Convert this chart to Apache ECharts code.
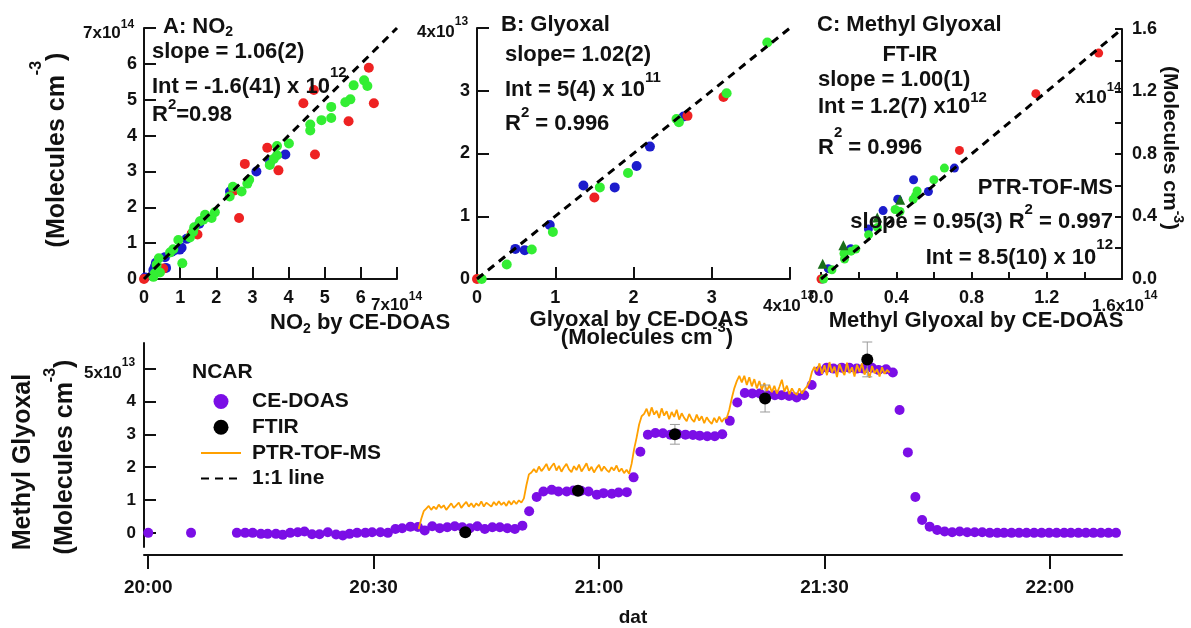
<!DOCTYPE html>
<html>
<head>
<meta charset="utf-8">
<script src="https://cdn.jsdelivr.net/npm/echarts@6/dist/echarts.min.js"></script>
<style>
  html, body { margin: 0; padding: 0; background: #fff; }
  #chart { width: 1191px; height: 628px; }
</style>
</head>
<body>
<div id="chart"></div>
<script>
const FONT = '"Liberation Sans", Arial, sans-serif'
const INK = '#111'
const RED = '#ee2222'
const GREEN = '#33ee33'
const BLUE = '#1c1ccc'
const DKGREEN = '#1a6e1a'
const PURPLE = '#7b0ee6'
const ORANGE = '#ffa000'

// A: NO2, both axes x10^14
const no2Blue = [[3.91, 3.47], [3.49, 3.26], [3.11, 3.00], [2.38, 2.44], [1.53, 1.54], [1.18, 1.12], [1.04, 0.87], [0.99, 0.82],
  [0.86, 0.81], [0.77, 0.76], [0.58, 0.61], [0.61, 0.31], [0.30, 0.34], [0.33, 0.45], [0.26, 0.25], [0.03, 0.04]]
const no2Red = [[6.22, 5.89], [4.70, 5.27], [4.41, 4.90], [6.36, 4.90], [5.66, 4.40], [4.73, 3.47], [3.41, 3.66], [2.79, 3.21],
  [3.72, 3.03], [2.48, 2.46], [2.63, 1.70], [1.32, 1.27], [1.48, 1.24], [0.53, 0.29], [0.0, 0.0]]
const no2Green = [[6.09, 5.54], [6.18, 5.38], [5.80, 5.40], [5.71, 5.01], [5.57, 4.93], [5.18, 4.80], [5.18, 4.49], [4.91, 4.43],
  [4.60, 4.31], [4.60, 4.14], [4.01, 3.78], [3.68, 3.71], [3.68, 3.45], [3.59, 3.35], [3.48, 3.18], [2.91, 2.77], [2.86, 2.66],
  [2.70, 2.44], [2.46, 2.57], [2.37, 2.30], [1.96, 1.86], [1.87, 1.70], [1.69, 1.79], [1.64, 1.65], [1.55, 1.61], [1.39, 1.44],
  [1.36, 1.32], [1.27, 1.16], [0.95, 1.09], [1.06, 0.44], [0.81, 0.83], [0.72, 0.74], [0.41, 0.58], [0.35, 0.40], [0.30, 0.16],
  [0.44, 0.18], [0.26, 0.06]]
const no2Line = [[0, 0], [7, 7]]

// B: glyoxal, x10^13
const glyBlue = [[2.64, 2.59], [2.21, 2.11], [2.04, 1.80], [1.76, 1.46], [1.36, 1.49], [0.93, 0.86], [0.61, 0.46], [0.49, 0.48], [-0.02, 0.0]]
const glyRed = [[3.15, 2.90], [2.69, 2.60], [1.50, 1.30], [0.0, 0.0]]
const glyGreen = [[3.71, 3.77], [3.19, 2.96], [2.58, 2.50], [2.55, 2.55], [1.93, 1.69], [1.57, 1.46], [0.97, 0.75], [0.70, 0.47],
  [0.38, 0.23], [0.06, 0.0]]
const glyLine = [[0, 0], [4, 4]]

// C: methyl glyoxal, x10^14
const mgBlue = [[0.709, 0.710], [0.571, 0.560], [0.492, 0.635], [0.408, 0.511], [0.330, 0.438], [0.252, 0.320], [0.158, 0.194],
  [0.039, 0.066], [0.007, 0.0]]
const mgRed = [[1.476, 1.446], [1.142, 1.186], [0.736, 0.823], [0.0, 0.0]]
const mgGreen = [[0.656, 0.710], [0.600, 0.635], [0.511, 0.564], [0.503, 0.533], [0.490, 0.510], [0.420, 0.432], [0.394, 0.445],
  [0.300, 0.330], [0.253, 0.283], [0.185, 0.192], [0.160, 0.178], [0.122, 0.163], [0.125, 0.128], [0.058, 0.059], [0.014, 0.0]]
const mgPtr = [[0.421, 0.507], [0.299, 0.393], [0.119, 0.216], [0.009, 0.098]]
const mgLine = [[0, 0], [1.6, 1.6]]
const cTicks = [0, 0.2, 0.4, 0.6, 0.8, 1.0, 1.2, 1.4, 1.6]

// bottom: minutes after 20:00, methyl glyoxal x10^13
const timeTicks = [0, 30, 60, 90, 120]
const ceDoas = [
  [0, 0], [5.7, 0],
  [11.8, 0], [12.9, 0], [13.9, 0], [15.0, -0.03], [15.9, -0.03], [17.0, -0.03], [17.9, -0.06], [18.9, 0], [19.9, 0.02], [20.8, 0.04],
  [21.8, -0.04], [22.8, -0.04], [23.9, 0.02], [25.0, -0.05], [25.9, -0.08], [26.8, -0.03], [27.8, 0], [28.9, 0], [29.8, 0.02], [30.9, 0.02],
  [31.9, 0], [32.9, 0.12], [33.8, 0.14], [34.9, 0.19], [35.9, 0.18], [36.8, 0.07], [37.8, 0.2], [38.8, 0.14], [39.8, 0.17], [40.8, 0.2],
  [41.8, 0.17], [42.8, 0.14], [43.8, 0.2], [44.8, 0.12], [45.8, 0.17], [46.8, 0.17], [47.8, 0.14], [48.8, 0.12], [49.8, 0.22], [50.7, 0.66],
  [51.7, 1.09], [52.6, 1.26], [53.7, 1.31], [54.6, 1.26], [55.7, 1.26], [56.6, 1.29], [57.6, 1.28], [58.6, 1.26], [59.7, 1.16], [60.6, 1.21],
  [61.7, 1.19], [62.6, 1.23], [63.7, 1.24], [64.6, 1.69], [65.5, 2.47], [66.5, 2.99], [67.5, 3.04], [68.5, 3.03], [69.5, 2.99], [70.5, 3.0],
  [71.5, 2.99], [72.5, 2.98], [73.4, 2.96], [74.4, 2.94], [75.4, 2.94], [76.4, 3.0], [77.4, 3.41], [78.4, 3.97], [79.4, 4.26], [80.4, 4.24],
  [81.4, 4.24], [82.4, 4.19], [83.4, 4.19], [84.3, 4.19], [85.3, 4.17], [86.3, 4.12], [87.3, 4.19], [88.3, 4.5], [89.3, 4.93], [90.3, 5.03],
  [91.2, 5.0], [92.3, 5.03], [93.3, 5.03], [94.3, 5.0], [95.2, 5.0], [96.3, 5.03], [97.2, 4.96], [98.2, 4.98], [99.1, 4.88], [100.0, 3.74],
  [101.1, 2.45], [102.1, 1.09], [103.0, 0.39], [104.0, 0.19], [105.0, 0.09], [106.0, 0.04], [107.0, 0.02], [108.0, 0.04], [109.0, 0.02], [110.0, 0.02],
  [111.0, 0.02], [112.0, 0], [113.0, 0], [113.9, 0], [114.9, 0], [115.9, 0], [116.9, 0], [117.9, 0], [118.9, 0], [119.9, 0],
  [120.9, 0], [121.9, 0], [122.8, 0], [123.8, 0], [124.8, 0], [125.8, 0], [126.8, 0], [127.8, 0], [128.8, 0]
]
const ftir = [[42.2, 0.02], [57.2, 1.28], [70.1, 3.0], [82.1, 4.09], [95.7, 5.28]]
const ftirErr = [0, 0, 0.3, 0.41, 0.53]
// PTR-TOF-MS, one reading every 20 s from 20:36
const ptrStart = 36
const ptrStep = 1 / 3
const ptrValues = [
  0.12, 0.42, 0.66, 0.74, 0.82, 0.70, 0.80, 0.72, 0.86, 0.76, 0.84, 0.70, 0.80, 0.90, 0.76, 0.84, 0.92, 0.76, 0.86, 0.94, 0.80,
  0.90, 0.78, 0.90, 0.82, 0.96, 0.80, 0.92, 0.86, 0.80, 0.94, 0.84, 0.96, 0.85, 0.93, 0.82, 0.97, 0.86, 0.98, 0.88, 0.99, 0.92,
  1.05, 1.45, 1.78, 1.84,
  1.94, 1.84, 2.02, 1.88, 1.98, 2.10, 1.90, 2.02, 2.12, 1.90, 2.04, 1.86, 2.00, 2.10, 1.93, 1.85, 2.03, 1.91, 2.08, 1.87, 1.99,
  2.12, 1.89, 2.01, 1.84, 1.97, 2.07, 1.88, 2.02, 1.92, 1.85, 2.00, 1.90, 2.05, 1.86, 1.96, 1.82, 1.92,
  1.80, 2.10, 2.55, 2.90, 3.30, 3.55,
  3.62, 3.78, 3.55, 3.82, 3.60, 3.72, 3.50, 3.79, 3.57, 3.70, 3.46, 3.68, 3.53, 3.75, 3.45, 3.64, 3.50, 3.40, 3.62, 3.46, 3.38,
  3.60, 3.42, 3.55, 3.34, 3.52, 3.40, 3.32, 3.50, 3.36, 3.54, 3.38, 3.48,
  3.50, 3.75, 4.10, 4.40, 4.62, 4.78,
  4.58, 4.78, 4.50, 4.74, 4.46, 4.68, 4.40, 4.62, 4.36, 4.56, 4.32, 4.50, 4.28, 4.48, 4.24, 4.44, 4.66, 4.30, 4.48, 4.22, 4.40,
  4.26, 4.20, 4.40, 4.24, 4.36,
  4.45, 4.60, 4.90, 5.05,
  4.92, 5.16, 4.84, 5.10, 4.80, 5.20, 4.88, 5.06, 4.74, 5.14, 4.94, 4.80, 5.18, 4.86, 5.04, 4.76, 5.12, 4.90, 5.16, 4.82, 5.00,
  4.72, 5.08, 4.86, 4.98, 4.76, 5.04, 4.84, 4.96, 4.88
]

const myChart = echarts.init(document.getElementById('chart'))

const axisLine = { onZero: false, lineStyle: { color: INK, width: 2 } }
const tickFont = { fontFamily: FONT, fontWeight: 'bold', color: INK }

function clock(m) {
  const h = 20 + Math.floor(m / 60)
  const mm = m % 60
  return h + ':' + (mm < 10 ? '0' : '') + mm
}

function scatter(name, data, idx, color, size, symbol) {
  return {
    name, type: 'scatter', xAxisIndex: idx, yAxisIndex: idx, data,
    symbol: symbol || 'circle', symbolSize: size,
    itemStyle: { color, opacity: 1 }, z: 3
  }
}

function oneToOne(data, idx) {
  return {
    name: '1:1 line', type: 'line', xAxisIndex: idx, yAxisIndex: idx, data,
    symbol: 'none', lineStyle: { color: '#000', width: 3, type: [8, 6] }, itemStyle: { color: '#000' }, z: 5
  }
}

// text with superscript {s|..} / subscript {b|..} pieces
function label(x, y, parts, o = {}) {
  const size = o.size || 22
  const ss = o.ss || 15
  const shift = o.shift || 0
  const lh = Math.max(size, 2 * shift + ss)
  const text = parts.map(p => typeof p === 'string' ? '{m|' + p + '}' : '{' + p[1] + '|' + p[0] + '}').join('')
  return {
    type: 'text', x, y, rotation: o.rot || 0, z: 100,
    style: {
      legacy: false,
      text, align: o.align || 'left', verticalAlign: 'middle', fill: INK,
      rich: {
        m: { font: 'bold ' + size + 'px ' + FONT, lineHeight: lh, verticalAlign: 'middle', fill: INK },
        s: { font: 'bold ' + ss + 'px ' + FONT, lineHeight: ss, verticalAlign: 'top', fill: INK },
        b: { font: 'bold ' + ss + 'px ' + FONT, lineHeight: ss, verticalAlign: 'bottom', fill: INK }
      }
    }
  }
}

const option = {
  animation: false,
  backgroundColor: '#fff',
  textStyle: { fontFamily: FONT },
  grid: [
    { left: 144, top: 28, width: 253, height: 251 },
    { left: 477, top: 28, width: 313, height: 251 },
    { left: 821, top: 29, width: 301, height: 250 },
    { left: 144, top: 343, width: 978, height: 209 }
  ],
  xAxis: [
    {
      gridIndex: 0, type: 'value', min: 0, max: 7, interval: 1, axisLine,
      axisTick: { inside: true, length: 12, lineStyle: { color: INK, width: 2 } },
      axisLabel: { ...tickFont, fontSize: 18, margin: 10, formatter: v => v === 7 ? '' : String(v) },
      splitLine: { show: false }
    },
    {
      gridIndex: 1, type: 'value', min: 0, max: 4, interval: 1, axisLine,
      axisTick: { inside: true, length: 12, lineStyle: { color: INK, width: 2 } },
      axisLabel: { ...tickFont, fontSize: 18, margin: 10, formatter: v => v === 4 ? '' : String(v) },
      splitLine: { show: false }
    },
    {
      gridIndex: 2, type: 'value', min: 0, max: 1.6, axisLine,
      axisTick: { inside: true, length: 7, customValues: cTicks, lineStyle: { color: INK, width: 2 } },
      axisLabel: { ...tickFont, fontSize: 18, margin: 10, customValues: [0, 0.4, 0.8, 1.2], formatter: v => v.toFixed(1) },
      splitLine: { show: false }
    },
    {
      gridIndex: 3, type: 'value', min: -0.56, max: 129.6, offset: 8, axisLine,
      axisTick: { inside: false, length: 14, customValues: timeTicks, lineStyle: { color: INK, width: 2 } },
      axisLabel: { ...tickFont, fontSize: 19, margin: 23, customValues: timeTicks, formatter: clock },
      splitLine: { show: false },
      name: 'dat', nameLocation: 'middle', nameGap: 53,
      nameTextStyle: { ...tickFont, fontSize: 19 }
    }
  ],
  yAxis: [
    {
      gridIndex: 0, type: 'value', min: 0, max: 7, interval: 1, axisLine,
      axisTick: { inside: true, length: 12, lineStyle: { color: INK, width: 2 } },
      axisLabel: { ...tickFont, fontSize: 18, margin: 7, formatter: v => v === 7 ? '' : String(v) },
      splitLine: { show: false }
    },
    {
      gridIndex: 1, type: 'value', min: 0, max: 4, interval: 1, axisLine,
      axisTick: { inside: true, length: 12, lineStyle: { color: INK, width: 2 } },
      axisLabel: { ...tickFont, fontSize: 18, margin: 7, formatter: v => v === 4 ? '' : String(v) },
      splitLine: { show: false }
    },
    {
      gridIndex: 2, type: 'value', position: 'right', min: 0, max: 1.6, axisLine,
      axisTick: { inside: true, length: 7, customValues: cTicks, lineStyle: { color: INK, width: 2 } },
      axisLabel: { ...tickFont, fontSize: 18, margin: 10, customValues: [0, 0.4, 0.8, 1.2, 1.6], formatter: v => v.toFixed(1) },
      splitLine: { show: false }
    },
    {
      gridIndex: 3, type: 'value', min: -0.43, max: 5.78, axisLine,
      axisTick: { inside: true, length: 12, customValues: [0, 1, 2, 3, 4, 5], lineStyle: { color: INK, width: 2 } },
      axisLabel: { ...tickFont, fontSize: 17, margin: 8, customValues: [0, 1, 2, 3, 4, 5], formatter: v => v === 5 ? '' : String(v) },
      splitLine: { show: false }
    }
  ],
  legend: {
    data: [
      { name: 'CE-DOAS', icon: 'circle' },
      { name: 'FTIR', icon: 'circle' },
      { name: 'PTR-TOF-MS', itemStyle: { opacity: 0 } },
      { name: '1:1 line', itemStyle: { opacity: 0 } }
    ],
    orient: 'vertical', left: 195, top: 386,
    itemWidth: 40, itemHeight: 15, itemGap: 4.7, selectedMode: false,
    textStyle: { ...tickFont, fontSize: 21, lineHeight: 21, padding: [0, 0, 0, 6] }
  },
  series: [
    scatter('A blue', no2Blue, 0, BLUE, 10),
    scatter('A red', no2Red, 0, RED, 10),
    scatter('A green', no2Green, 0, GREEN, 10),
    oneToOne(no2Line, 0),

    scatter('B blue', glyBlue, 1, BLUE, 10),
    scatter('B red', glyRed, 1, RED, 10),
    scatter('B green', glyGreen, 1, GREEN, 10),
    oneToOne(glyLine, 1),

    scatter('C blue', mgBlue, 2, BLUE, 9),
    scatter('C red', mgRed, 2, RED, 9),
    scatter('C green', mgGreen, 2, GREEN, 9),
    scatter('C ptr', mgPtr, 2, DKGREEN, 10, 'triangle'),
    oneToOne(mgLine, 2),

    scatter('CE-DOAS', ceDoas, 3, PURPLE, 10),
    {
      name: 'PTR-TOF-MS', type: 'line', xAxisIndex: 3, yAxisIndex: 3,
      data: ptrValues.map((v, i) => [ptrStart + i * ptrStep, v]),
      symbol: 'none', lineStyle: { color: ORANGE, width: 1.8 }, itemStyle: { color: ORANGE }, z: 4
    },
    {
      name: 'FTIR error', type: 'custom', xAxisIndex: 3, yAxisIndex: 3,
      data: ftir.map((p, i) => [p[0], p[1], ftirErr[i]]),
      z: 5,
      renderItem: function (params, api) {
        const x = api.value(0)
        const y = api.value(1)
        const e = api.value(2)
        if (!e) return
        const top = api.coord([x, y + e])
        const bot = api.coord([x, y - e])
        const st = { stroke: '#9a9a9a', lineWidth: 1 }
        return {
          type: 'group',
          children: [
            { type: 'line', shape: { x1: top[0], y1: top[1], x2: bot[0], y2: bot[1] }, style: st },
            { type: 'line', shape: { x1: top[0] - 5, y1: top[1], x2: top[0] + 5, y2: top[1] }, style: st },
            { type: 'line', shape: { x1: bot[0] - 5, y1: bot[1], x2: bot[0] + 5, y2: bot[1] }, style: st }
          ]
        }
      }
    },
    { ...scatter('FTIR', ftir, 3, '#000', 12), z: 6 }
  ],
  graphic: [
    // panel A
    label(163, 27, ['A: NO', ['2', 'b']], { shift: 5, ss: 14 }),
    label(152, 52, ['slope = 1.06(2)']),
    label(152, 87, ['Int = -1.6(41) x 10', ['12', 's']], { shift: 14 }),
    label(152, 115, ['R', ['2', 's'], '=0.98'], { shift: 10 }),
    label(83, 33, ['7x10', ['14', 's']], { size: 17, ss: 12, shift: 8 }),
    label(371, 305, ['7x10', ['14', 's']], { size: 17, ss: 12, shift: 8 }),
    label(270, 323, ['NO', ['2', 'b'], ' by CE-DOAS'], { shift: 6, ss: 14 }),
    label(57, 150, ['(Molecules cm', ['-3', 's'], ')'], { size: 25, ss: 16, shift: 20, align: 'center', rot: Math.PI / 2 }),

    // panel B
    label(501, 25, ['B: Glyoxal']),
    label(505, 55, ['slope= 1.02(2)']),
    label(505, 90, ['Int = 5(4) x 10', ['11', 's']], { shift: 12 }),
    label(505, 124, ['R', ['2', 's'], ' = 0.996'], { shift: 11 }),
    label(417, 32, ['4x10', ['13', 's']], { size: 17, ss: 12, shift: 10 }),
    label(763, 306, ['4x10', ['13', 's']], { size: 17, ss: 12, shift: 10 }),
    label(639, 320, ['Glyoxal by CE-DOAS'], { align: 'center' }),
    label(647, 338, ['(Molecules cm', ['-3', 's'], ')'], { shift: 10, align: 'center' }),

    // panel C
    label(817, 25, ['C: Methyl Glyoxal']),
    label(910, 55, ['FT-IR'], { align: 'center' }),
    label(818, 80, ['slope = 1.00(1)']),
    label(818, 107, ['Int = 1.2(7) x10', ['12', 's']], { shift: 9 }),
    label(818, 148, ['R', ['2', 's'], ' = 0.996'], { shift: 15 }),
    label(1075, 98, ['x10', ['14', 's']], { size: 19, ss: 13, shift: 11 }),
    label(1113, 188, ['PTR-TOF-MS'], { align: 'right' }),
    label(1113, 222, ['slope = 0.95(3) R', ['2', 's'], ' = 0.997'], { shift: 12, align: 'right' }),
    label(1113, 258, ['Int = 8.5(10) x 10', ['12', 's']], { shift: 13, align: 'right' }),
    label(1092, 306, ['1.6x10', ['14', 's']], { size: 17, ss: 12, shift: 10 }),
    label(976, 321, ['Methyl Glyoxal by CE-DOAS'], { align: 'center' }),
    label(1170, 148, ['(Molecules cm', ['-3', 's'], ')'], { size: 21, ss: 14, shift: 8, align: 'center', rot: -Math.PI / 2 }),

    // bottom panel
    label(84, 373, ['5x10', ['13', 's']], { size: 17, ss: 12, shift: 10 }),
    label(23, 462, ['Methyl Glyoxal'], { size: 25, align: 'center', rot: Math.PI / 2 }),
    label(65, 457, ['(Molecules cm', ['-3', 's'], ')'], { size: 25, ss: 16, shift: 14, align: 'center', rot: Math.PI / 2 }),
    label(192, 372, ['NCAR'], { size: 21 })
  ]
}

option && myChart.setOption(option)
</script>
</body>
</html>
